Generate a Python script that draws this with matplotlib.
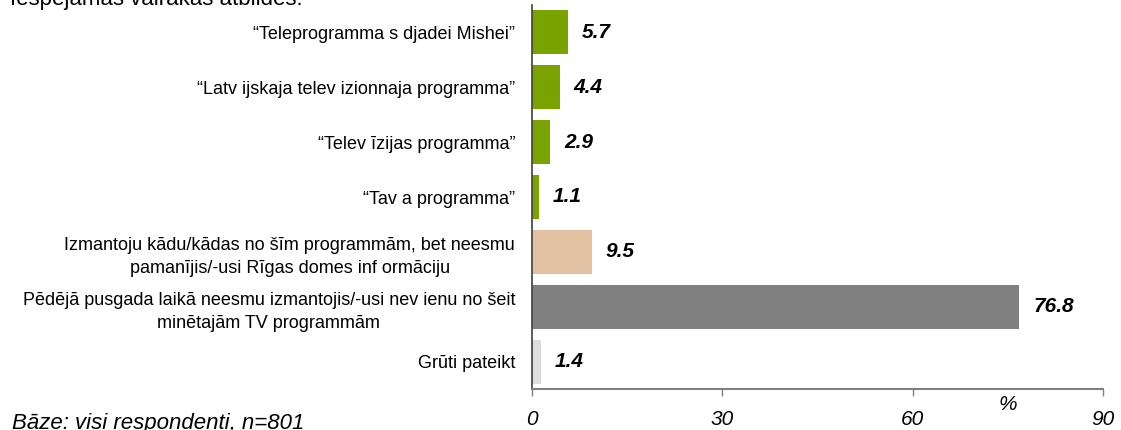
import matplotlib
matplotlib.use("Agg")
import matplotlib.pyplot as plt

categories = [
    "\u201cTeleprogramma s djadei Mishei\u201d",
    "\u201cLatv ijskaja telev izionnaja programma\u201d",
    "\u201cTelev \u012bzijas programma\u201d",
    "\u201cTav a programma\u201d",
    "Izmantoju k\u0101du/k\u0101das no \u0161\u012bm programm\u0101m, bet neesmu\npaman\u012bjis/-usi R\u012bgas domes inf orm\u0101ciju",
    "P\u0113d\u0113j\u0101 pusgada laik\u0101 neesmu izmantojis/-usi nev ienu no \u0161eit\nmin\u0113taj\u0101m TV programm\u0101m",
    "Gr\u016bti pateikt",
]
values = [5.7, 4.4, 2.9, 1.1, 9.5, 76.8, 1.4]
value_labels = ["5.7", "4.4", "2.9", "1.1", "9.5", "76.8", "1.4"]
colors = ["#7BA300", "#7BA300", "#7BA300", "#7BA300", "#E2C1A3", "#808080", "#DDDDDD"]
xticks = [0, 30, 60, 90]

plt.rcParams['font.family'] = ['Liberation Sans', 'DejaVu Sans']

fig = plt.figure(figsize=(11.21, 4.30), dpi=100)
ax = fig.add_axes([531.7/1121, (430-389)/430, (1103.3-531.7)/1121, (389-5)/430])

y = list(range(len(categories)))
ax.barh(y, values, height=0.8, color=colors, zorder=2)
ax.set_ylim(len(categories) - 0.5, -0.5)
ax.set_xlim(0, 90)

for yi, v, lab in zip(y, values, value_labels):
    ax.annotate(lab, (v, yi), xytext=(10, 0), textcoords="offset points",
                ha="left", va="center", fontsize=15, fontweight="bold",
                fontstyle="italic")

ax.set_yticks(y)
ax.set_yticklabels(categories, fontsize=13, multialignment="center",
                   linespacing=1.45)
ax.tick_params(axis="y", length=0, pad=12)
ax.set_xticks(xticks)
ax.set_xticklabels([str(t) for t in xticks], fontsize=15, fontstyle="italic")
ax.tick_params(axis="x", length=5, width=1, color="#808080", pad=10,
               direction="out")

for s in ["top", "right"]:
    ax.spines[s].set_visible(False)
ax.spines["bottom"].set_color("#808080")
ax.spines["bottom"].set_linewidth(1.5)
ax.spines["left"].set_color("#404040")
ax.spines["left"].set_linewidth(1.2)

fig.text(1008/1121, (430-405)/430, "%", fontsize=15, fontstyle="italic",
         ha="center", va="center")
fig.text(12/1121, (430-429)/430, "B\u0101ze: visi respondenti, n=801",
         fontsize=16, fontstyle="italic", ha="left", va="baseline")
fig.text(10/1121, (430-5)/430, "Iesp\u0113jamas vair\u0101kas atbildes:",
         fontsize=16, ha="left", va="baseline")

fig.savefig("out.png", dpi=100)
